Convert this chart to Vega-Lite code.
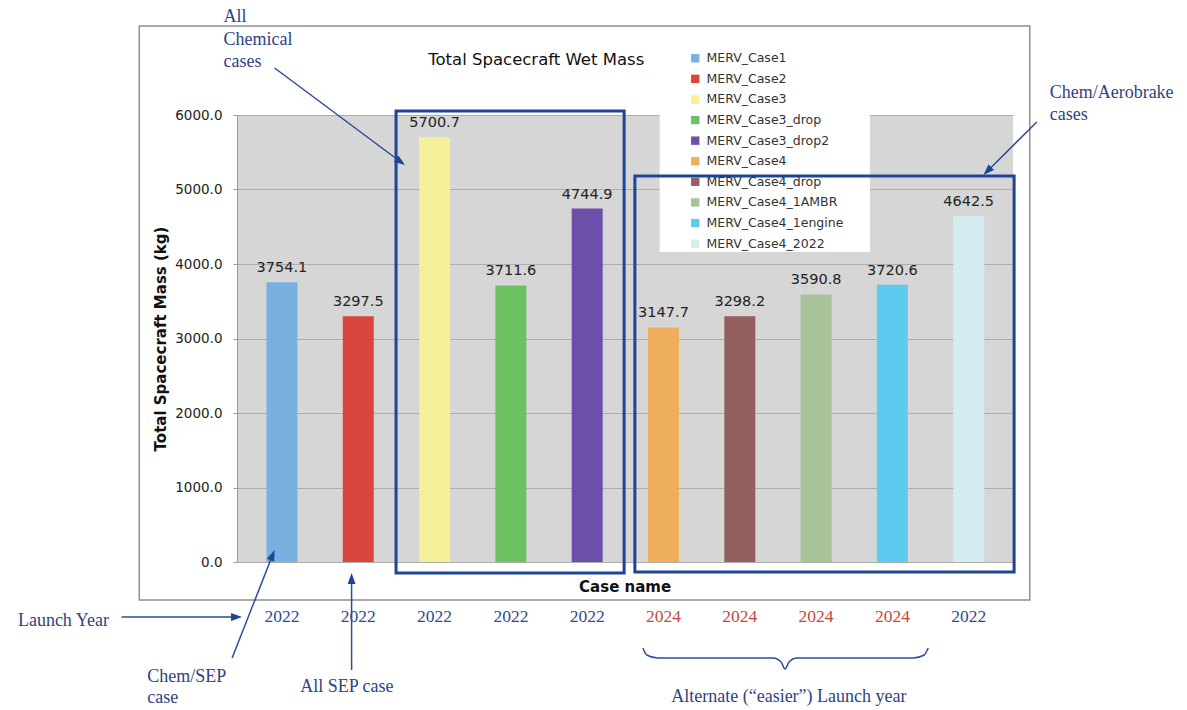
{
  "$schema": "https://vega.github.io/schema/vega-lite/v6.json",
  "width": 776,
  "height": 447,
  "autosize": {"type": "none"},
  "padding": {"left": 237, "top": 115, "right": 174, "bottom": 148},
  "background": "white",
  "config": {"view": {"fill": "#d6d6d6", "stroke": null}, "font": "DejaVu Sans"},
  "resolve": {"axis": {"x": "independent", "y": "independent"}},
  "datasets": {
    "bars": [
      {"idx": 0, "case": "MERV_Case1", "mass": 3754.1, "year": "2022"},
      {"idx": 1, "case": "MERV_Case2", "mass": 3297.5, "year": "2022"},
      {"idx": 2, "case": "MERV_Case3", "mass": 5700.7, "year": "2022"},
      {"idx": 3, "case": "MERV_Case3_drop", "mass": 3711.6, "year": "2022"},
      {"idx": 4, "case": "MERV_Case3_drop2", "mass": 4744.9, "year": "2022"},
      {"idx": 5, "case": "MERV_Case4", "mass": 3147.7, "year": "2024"},
      {"idx": 6, "case": "MERV_Case4_drop", "mass": 3298.2, "year": "2024"},
      {"idx": 7, "case": "MERV_Case4_1AMBR", "mass": 3590.8, "year": "2024"},
      {"idx": 8, "case": "MERV_Case4_1engine", "mass": 3720.6, "year": "2024"},
      {"idx": 9, "case": "MERV_Case4_2022", "mass": 4642.5, "year": "2022"}
    ],
    "frame": [{"x": -1.87, "x2": 9.8, "y": 7195, "y2": -510}],
    "legendbox": [{"x": 4.95, "x2": 7.705, "y": 6000, "y2": 4161}],
    "boxes": [
      {"group": "All Chemical", "x": 1.495, "x2": 4.484, "y": 6054, "y2": -148},
      {"group": "Chem/Aerobrake", "x": 4.625, "x2": 9.595, "y": 5181, "y2": -134}
    ],
    "arrows": [
      {"id": "A1", "ord": 0, "x": -0.097, "y": 6631},
      {"id": "A1", "ord": 1, "x": 1.544, "y": 5379},
      {"id": "A2", "ord": 0, "x": 9.8926, "y": 5906},
      {"id": "A2", "ord": 1, "x": 9.2534, "y": 5256},
      {"id": "A3", "ord": 0, "x": -2.103, "y": -738},
      {"id": "A3", "ord": 1, "x": -0.608, "y": -738},
      {"id": "A4", "ord": 0, "x": -0.6535, "y": -1289},
      {"id": "A4", "ord": 1, "x": -0.128, "y": 80},
      {"id": "A5", "ord": 0, "x": 0.9123, "y": -1450},
      {"id": "A5", "ord": 1, "x": 0.9123, "y": -235}
    ],
    "heads": [
      {"id": "A1", "x": 1.544, "y": 5379, "angle": 126},
      {"id": "A2", "x": 9.2534, "y": 5256, "angle": 225.5},
      {"id": "A3", "x": -0.608, "y": -738, "angle": 90},
      {"id": "A4", "x": -0.128, "y": 80, "angle": 21.7},
      {"id": "A5", "x": 0.9123, "y": -235, "angle": 0}
    ],
    "brace": [
      {"ord": 0, "x": 4.730, "y": -1154},
      {"ord": 1, "x": 4.781, "y": -1248},
      {"ord": 2, "x": 4.924, "y": -1289},
      {"ord": 3, "x": 6.438, "y": -1289},
      {"ord": 4, "x": 6.541, "y": -1342},
      {"ord": 5, "x": 6.593, "y": -1436},
      {"ord": 6, "x": 6.645, "y": -1342},
      {"ord": 7, "x": 6.748, "y": -1289},
      {"ord": 8, "x": 8.275, "y": -1289},
      {"ord": 9, "x": 8.417, "y": -1248},
      {"ord": 10, "x": 8.469, "y": -1154}
    ],
    "notes": [
      {"text": "All", "x": -0.767, "y": 7315},
      {"text": "Chemical", "x": -0.767, "y": 7007},
      {"text": "cases", "x": -0.767, "y": 6711},
      {"text": "Chem/Aerobrake", "x": 10.061, "y": 6295},
      {"text": "cases", "x": 10.061, "y": 6000},
      {"text": "Launch Year", "x": -3.461, "y": -792},
      {"text": "Chem/SEP", "x": -1.766, "y": -1544},
      {"text": "case", "x": -1.766, "y": -1826},
      {"text": "All SEP case", "x": 0.239, "y": -1678},
      {"text": "Alternate (“easier”) Launch year", "x": 5.101, "y": -1812}
    ],
    "titles": [
      {"text": "Total Spacecraft Wet Mass", "x": 3.332, "y": 6738}
    ],
    "xtitle": [
      {"text": "Case name", "x": 4.497, "y": -336}
    ]
  },
  "layer": [
    {
      "data": {"name": "bars"},
      "mark": {"type": "bar", "width": 31},
      "encoding": {
        "x": {"field": "idx", "type": "quantitative", "scale": {"domain": [-0.524, 9.515], "nice": false, "zero": false}, "axis": null},
        "y": {
          "field": "mass", "type": "quantitative",
          "scale": {"domain": [0, 6000], "nice": false, "zero": false},
          "axis": {
            "format": ".1f", "values": [0, 1000, 2000, 3000, 4000, 5000, 6000],
            "grid": true, "gridColor": "#adadad", "gridWidth": 1,
            "domain": true, "domainColor": "#9a9a9a", "tickColor": "#9a9a9a", "tickSize": 4,
            "labelPadding": 11, "labelFontSize": 13.5, "labelColor": "#222222",
            "title": "Total Spacecraft Mass (kg)", "titleFontSize": 15, "titleFontWeight": "bold",
            "titleX": -77, "titleY": 223.5, "titleAngle": -90, "titleBaseline": "middle", "titleAlign": "center", "titleColor": "#111111"
          }
        },
        "color": {
          "field": "case", "type": "nominal",
          "scale": {
            "domain": ["MERV_Case1", "MERV_Case2", "MERV_Case3", "MERV_Case3_drop", "MERV_Case3_drop2", "MERV_Case4", "MERV_Case4_drop", "MERV_Case4_1AMBR", "MERV_Case4_1engine", "MERV_Case4_2022"],
            "range": ["#78b0e2", "#d9463e", "#f6f09a", "#6cc163", "#6b4fa8", "#eeae5a", "#93605f", "#a8c299", "#5ccbef", "#d3edf1"]
          },
          "legend": {
            "orient": "none", "legendX": 452, "legendY": -63, "title": null,
            "symbolType": "square", "symbolSize": 70, "symbolStrokeWidth": 0,
            "labelFontSize": 12.5, "labelColor": "#333333", "labelOffset": 5, "rowPadding": 7.6, "padding": 0
          }
        }
      }
    },
    {
      "data": {"name": "frame"},
      "mark": {"type": "rect", "fill": null, "stroke": "#8f8f8f", "strokeWidth": 1.5},
      "encoding": {
        "x": {"field": "x", "type": "quantitative", "scale": {"domain": [-0.524, 9.515], "nice": false, "zero": false}, "axis": null},
        "x2": {"field": "x2"},
        "y": {"field": "y", "type": "quantitative", "scale": {"domain": [0, 6000], "nice": false, "zero": false}, "axis": null},
        "y2": {"field": "y2"}
      }
    },
    {
      "data": {"name": "legendbox"},
      "mark": {"type": "rect", "fill": "white"},
      "encoding": {
        "x": {"field": "x", "type": "quantitative", "scale": {"domain": [-0.524, 9.515], "nice": false, "zero": false}, "axis": null},
        "x2": {"field": "x2"},
        "y": {"field": "y", "type": "quantitative", "scale": {"domain": [0, 6000], "nice": false, "zero": false}, "axis": null},
        "y2": {"field": "y2"}
      }
    },
    {
      "data": {"name": "bars"},
      "mark": {"type": "text", "dy": -14, "fontSize": 14.5, "color": "#222222", "baseline": "middle"},
      "encoding": {
        "x": {"field": "idx", "type": "quantitative", "scale": {"domain": [-0.524, 9.515], "nice": false, "zero": false}, "axis": null},
        "y": {"field": "mass", "type": "quantitative", "scale": {"domain": [0, 6000], "nice": false, "zero": false}, "axis": null},
        "text": {"field": "mass", "type": "quantitative", "format": ".1f"}
      }
    },
    {
      "data": {"name": "bars"},
      "mark": {"type": "text", "font": "Liberation Serif", "fontSize": 17.5, "baseline": "middle"},
      "encoding": {
        "x": {"field": "idx", "type": "quantitative", "scale": {"domain": [-0.524, 9.515], "nice": false, "zero": false}, "axis": null},
        "y": {"datum": -738, "type": "quantitative", "scale": {"domain": [0, 6000], "nice": false, "zero": false}, "axis": null},
        "text": {"field": "year", "type": "nominal"},
        "color": {"condition": {"test": "datum.year == '2024'", "value": "#c8463b"}, "value": "#2c4a96"}
      }
    },
    {
      "data": {"name": "boxes"},
      "mark": {"type": "rect", "fill": null, "stroke": "#1c4595", "strokeWidth": 3},
      "encoding": {
        "x": {"field": "x", "type": "quantitative", "scale": {"domain": [-0.524, 9.515], "nice": false, "zero": false}, "axis": null},
        "x2": {"field": "x2"},
        "y": {"field": "y", "type": "quantitative", "scale": {"domain": [0, 6000], "nice": false, "zero": false}, "axis": null},
        "y2": {"field": "y2"}
      }
    },
    {
      "data": {"name": "arrows"},
      "mark": {"type": "line", "color": "#2b4d9a", "strokeWidth": 1.5},
      "encoding": {
        "x": {"field": "x", "type": "quantitative", "scale": {"domain": [-0.524, 9.515], "nice": false, "zero": false}, "axis": null},
        "y": {"field": "y", "type": "quantitative", "scale": {"domain": [0, 6000], "nice": false, "zero": false}, "axis": null},
        "detail": {"field": "id", "type": "nominal"},
        "order": {"field": "ord", "type": "quantitative"}
      }
    },
    {
      "data": {"name": "heads"},
      "mark": {"type": "point", "shape": "M0,-1L0.6,0.7L-0.6,0.7Z", "filled": true, "color": "#1c4595", "size": 169, "opacity": 1},
      "encoding": {
        "x": {"field": "x", "type": "quantitative", "scale": {"domain": [-0.524, 9.515], "nice": false, "zero": false}, "axis": null},
        "y": {"field": "y", "type": "quantitative", "scale": {"domain": [0, 6000], "nice": false, "zero": false}, "axis": null},
        "angle": {"field": "angle", "type": "quantitative", "scale": null}
      }
    },
    {
      "data": {"name": "brace"},
      "mark": {"type": "line", "color": "#2b4d9a", "strokeWidth": 1.5, "interpolate": "monotone"},
      "encoding": {
        "x": {"field": "x", "type": "quantitative", "scale": {"domain": [-0.524, 9.515], "nice": false, "zero": false}, "axis": null},
        "y": {"field": "y", "type": "quantitative", "scale": {"domain": [0, 6000], "nice": false, "zero": false}, "axis": null},
        "order": {"field": "ord", "type": "quantitative"}
      }
    },
    {
      "data": {"name": "notes"},
      "mark": {"type": "text", "font": "Liberation Serif", "fontSize": 18, "align": "left", "baseline": "middle", "color": "#2e4384"},
      "encoding": {
        "x": {"field": "x", "type": "quantitative", "scale": {"domain": [-0.524, 9.515], "nice": false, "zero": false}, "axis": null},
        "y": {"field": "y", "type": "quantitative", "scale": {"domain": [0, 6000], "nice": false, "zero": false}, "axis": null},
        "text": {"field": "text", "type": "nominal"}
      }
    },
    {
      "data": {"name": "titles"},
      "mark": {"type": "text", "fontSize": 16.5, "align": "center", "baseline": "middle", "color": "#111111"},
      "encoding": {
        "x": {"field": "x", "type": "quantitative", "scale": {"domain": [-0.524, 9.515], "nice": false, "zero": false}, "axis": null},
        "y": {"field": "y", "type": "quantitative", "scale": {"domain": [0, 6000], "nice": false, "zero": false}, "axis": null},
        "text": {"field": "text", "type": "nominal"}
      }
    },
    {
      "data": {"name": "xtitle"},
      "mark": {"type": "text", "fontSize": 15, "fontWeight": "bold", "align": "center", "baseline": "middle", "color": "#111111"},
      "encoding": {
        "x": {"field": "x", "type": "quantitative", "scale": {"domain": [-0.524, 9.515], "nice": false, "zero": false}, "axis": null},
        "y": {"field": "y", "type": "quantitative", "scale": {"domain": [0, 6000], "nice": false, "zero": false}, "axis": null},
        "text": {"field": "text", "type": "nominal"}
      }
    }
  ]
}
